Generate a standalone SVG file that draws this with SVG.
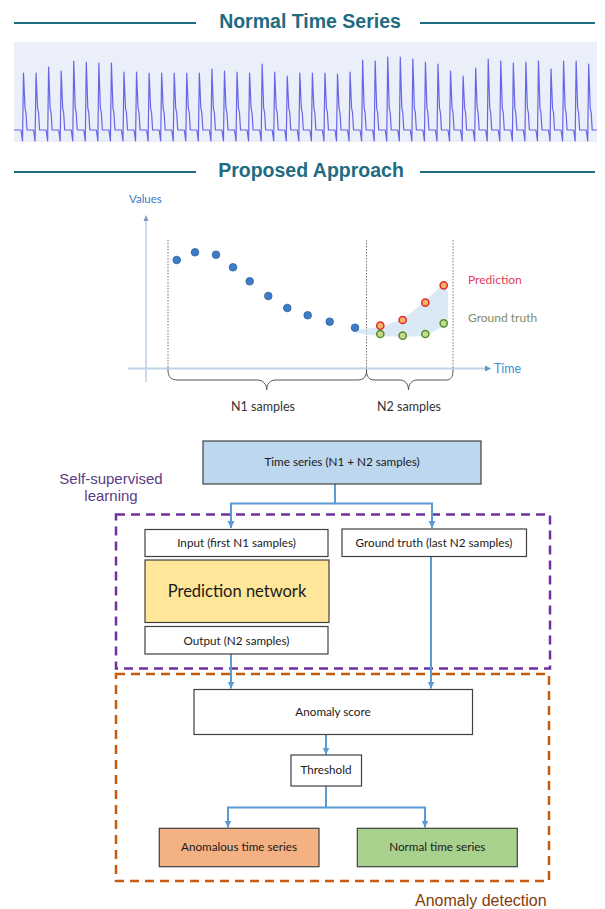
<svg xmlns="http://www.w3.org/2000/svg" width="605" height="909" viewBox="0 0 605 909">
<style>
.title{font-family:"Liberation Sans",Arial,sans-serif;font-weight:bold;fill:#1f6b82;text-anchor:middle}
.tline{stroke:#1f6b82;stroke-width:2}
.ax{font-family:Lato,"Open Sans",sans-serif}
.box{stroke:#404040;stroke-width:1.2}
.lbl{font-family:Lato,"Liberation Sans",sans-serif;font-size:11.7px;fill:#1a1a1a;text-anchor:middle}
.big{font-size:16.5px}
.conn{fill:none;stroke:#5b9bd5;stroke-width:2}
.dot{fill:#3d7cc9;stroke:#2c5f9e;stroke-width:0.8}
.pred{fill:#f7b267;stroke:#e02b2b;stroke-width:1.5}
.gt{fill:#c9d98a;stroke:#4f8f2f;stroke-width:1.5}
.vdot{stroke:#666;stroke-width:0.9;stroke-dasharray:1.5,1.5}
.brace{fill:none;stroke:#555;stroke-width:1}
</style>
<defs>
<marker id="arr" markerWidth="8" markerHeight="8" refX="7" refY="4" orient="auto" markerUnits="userSpaceOnUse">
<path d="M0,0.5 L7,4 L0,7.5 Z" fill="#5b9bd5"/>
</marker>
<clipPath id="wclip"><rect x="14" y="42" width="583" height="100"/></clipPath>
</defs>
<rect width="605" height="909" fill="#ffffff"/>

<g id="title-normal">
<line class="tline" x1="14" y1="23" x2="196" y2="23"/>
<line class="tline" x1="420" y1="23" x2="595" y2="23"/>
<text class="title" x="310" y="28" font-size="19.5">Normal Time Series</text>
</g>

<g id="waveform">
<rect x="14" y="42" width="583" height="100" fill="#eaeff9"/>
<path clip-path="url(#wclip)" fill="none" stroke="#6666e6" stroke-width="1.2" stroke-linejoin="round" d="M14,130 H21
l1.5,11 l1,-68 l1.5,35 l1,5 l1,17 h6.56
l1.5,11 l1,-68 l1.5,35 l1,5 l1,17 h6.56
l1.5,11 l1,-74 l1.5,41 l1,5 l1,17 h6.56
l1.5,11 l1,-70 l1.5,37 l1,5 l1,17 h6.56
l1.5,11 l1,-80 l1.5,47 l1,5 l1,17 h6.56
l1.5,11 l1,-79 l1.5,46 l1,5 l1,17 h6.56
l1.5,11 l1,-78 l1.5,45 l1,5 l1,17 h6.56
l1.5,11 l1,-78 l1.5,45 l1,5 l1,17 h6.56
l1.5,11 l1,-69 l1.5,36 l1,5 l1,17 h6.56
l1.5,11 l1,-69 l1.5,36 l1,5 l1,17 h6.56
l1.5,11 l1,-68 l1.5,35 l1,5 l1,17 h6.56
l1.5,11 l1,-68 l1.5,35 l1,5 l1,17 h6.56
l1.5,11 l1,-68 l1.5,35 l1,5 l1,17 h6.56
l1.5,11 l1,-68 l1.5,35 l1,5 l1,17 h6.56
l1.5,11 l1,-68 l1.5,35 l1,5 l1,17 h6.56
l1.5,11 l1,-72 l1.5,39 l1,5 l1,17 h6.56
l1.5,11 l1,-70 l1.5,37 l1,5 l1,17 h6.56
l1.5,11 l1,-69 l1.5,36 l1,5 l1,17 h6.56
l1.5,11 l1,-68 l1.5,35 l1,5 l1,17 h6.56
l1.5,11 l1,-77 l1.5,44 l1,5 l1,17 h6.56
l1.5,11 l1,-69 l1.5,36 l1,5 l1,17 h6.56
l1.5,11 l1,-65 l1.5,32 l1,5 l1,17 h6.56
l1.5,11 l1,-68 l1.5,35 l1,5 l1,17 h6.56
l1.5,11 l1,-68 l1.5,35 l1,5 l1,17 h6.56
l1.5,11 l1,-68 l1.5,35 l1,5 l1,17 h6.56
l1.5,11 l1,-67 l1.5,34 l1,5 l1,17 h6.56
l1.5,11 l1,-69 l1.5,36 l1,5 l1,17 h6.56
l1.5,11 l1,-81 l1.5,48 l1,5 l1,17 h6.56
l1.5,11 l1,-80 l1.5,47 l1,5 l1,17 h6.56
l1.5,11 l1,-84 l1.5,51 l1,5 l1,17 h6.56
l1.5,11 l1,-84 l1.5,51 l1,5 l1,17 h6.56
l1.5,11 l1,-82 l1.5,49 l1,5 l1,17 h6.56
l1.5,11 l1,-79 l1.5,46 l1,5 l1,17 h6.56
l1.5,11 l1,-77 l1.5,44 l1,5 l1,17 h6.56
l1.5,11 l1,-70 l1.5,37 l1,5 l1,17 h6.56
l1.5,11 l1,-65 l1.5,32 l1,5 l1,17 h6.56
l1.5,11 l1,-73 l1.5,40 l1,5 l1,17 h6.56
l1.5,11 l1,-82 l1.5,49 l1,5 l1,17 h6.56
l1.5,11 l1,-80 l1.5,47 l1,5 l1,17 h6.56
l1.5,11 l1,-78 l1.5,45 l1,5 l1,17 h6.56
l1.5,11 l1,-79 l1.5,46 l1,5 l1,17 h6.56
l1.5,11 l1,-80 l1.5,47 l1,5 l1,17 h6.56
l1.5,11 l1,-72 l1.5,39 l1,5 l1,17 h6.56
l1.5,11 l1,-80 l1.5,47 l1,5 l1,17 h6.56
l1.5,11 l1,-80 l1.5,47 l1,5 l1,17 h6.56
l1.5,11 l1,-77 l1.5,44 l1,5 l1,17 h6.56"/>
</g>

<g id="title-proposed">
<line class="tline" x1="14" y1="172" x2="196" y2="172"/>
<line class="tline" x1="420" y1="172" x2="595" y2="172"/>
<text class="title" x="311" y="177" font-size="19.5">Proposed Approach</text>
</g>

<g id="chart">
<line x1="146" y1="382" x2="146" y2="220" stroke="#a9c2da" stroke-width="1.2"/>
<path d="M143.5,221 L146,215 L148.5,221 Z" fill="#7f9fbf"/>
<line x1="128" y1="368.5" x2="486" y2="368.5" stroke="#bcd3e8" stroke-width="2"/>
<path d="M485,365.5 L491,368.5 L485,371.5 Z" fill="#5b9bd5"/>
<text class="ax" x="129" y="203" font-size="11.5" fill="#3b7cbf">Values</text>
<text class="ax" x="494" y="372.5" font-size="12.5" fill="#3b8fd0">Time</text>
<line class="vdot" x1="168" y1="240" x2="168" y2="370"/>
<line class="vdot" x1="366.5" y1="240" x2="366.5" y2="370"/>
<line class="vdot" x1="453" y1="240" x2="453" y2="370"/>
<path class="brace" d="M168,370 C168,377 171,380 178,380 H257 C263,380 266.7,384 266.7,390 C266.7,384 270,380 276,380 H357 C364,380 366.5,377 366.5,370"/>
<path class="brace" d="M366.5,370 C366.5,377 369,380 375,380 H400 C405,380 408.5,384 408.5,390 C408.5,384 412,380 417,380 H446 C451,380 453,377 453,370"/>
<text class="ax" x="263" y="411" font-size="12.5" fill="#333" text-anchor="middle">N1 samples</text>
<text class="ax" x="409" y="411" font-size="12.5" fill="#333" text-anchor="middle">N2 samples</text>
<polygon points="356,330 380,327 403,319 425,301 444,283 448,292 448,324 425,336 403,337 380,336 356,333" fill="#cfe1f2" opacity="0.75"/>
<circle class="dot" cx="176.7" cy="260" r="3.8"/>
<circle class="dot" cx="195" cy="252.3" r="3.8"/>
<circle class="dot" cx="216" cy="254.7" r="3.8"/>
<circle class="dot" cx="233" cy="267.3" r="3.8"/>
<circle class="dot" cx="249.7" cy="281.3" r="3.8"/>
<circle class="dot" cx="268.3" cy="296" r="3.8"/>
<circle class="dot" cx="287.3" cy="308" r="3.8"/>
<circle class="dot" cx="307.7" cy="315.3" r="3.8"/>
<circle class="dot" cx="329.7" cy="321.7" r="3.8"/>
<circle class="dot" cx="355" cy="327.7" r="3.8"/>
<circle class="pred" cx="380.3" cy="325.7" r="3.6"/>
<circle class="pred" cx="402.7" cy="320" r="3.6"/>
<circle class="pred" cx="425.3" cy="302.7" r="3.6"/>
<circle class="pred" cx="443.7" cy="285.3" r="3.6"/>
<circle class="gt" cx="380.3" cy="334" r="3.6"/>
<circle class="gt" cx="402.7" cy="335.7" r="3.6"/>
<circle class="gt" cx="425.3" cy="334" r="3.6"/>
<circle class="gt" cx="443.7" cy="323.3" r="3.6"/>
<text class="ax" x="468" y="284" font-size="12" fill="#e0405a">Prediction</text>
<text class="ax" x="468" y="322" font-size="12" fill="#7f8c6a">Ground truth</text>
</g>

<g id="group-ssl">
<rect x="116" y="514.5" width="434" height="154" fill="none" stroke="#7030a0" stroke-width="2.5" stroke-dasharray="9,6"/>
<text x="111" y="483.5" font-family="'Liberation Sans',Arial,sans-serif" font-size="15" fill="#5a3d85" text-anchor="middle">Self-supervised</text>
<text x="111" y="501" font-family="'Liberation Sans',Arial,sans-serif" font-size="15" fill="#5a3d85" text-anchor="middle">learning</text>
</g>

<g id="group-ad">
<rect x="116" y="674" width="433" height="207" fill="none" stroke="#c55a11" stroke-width="2.5" stroke-dasharray="9,6"/>
<text x="415" y="906" font-family="'Liberation Sans',Arial,sans-serif" font-size="16" fill="#843c0c">Anomaly detection</text>
</g>

<g id="connectors">
<path class="conn" d="M335,484 V503.5 H231 V528" marker-end="url(#arr)"/>
<path class="conn" d="M335,503.5 H432 V528" marker-end="url(#arr)"/>
<path class="conn" d="M231,654 V688.5" marker-end="url(#arr)"/>
<path class="conn" d="M431,557 V688.5" marker-end="url(#arr)"/>
<path class="conn" d="M326,734.5 V754.5" marker-end="url(#arr)"/>
<path class="conn" d="M326,786 V807.5 H228 V827.5" marker-end="url(#arr)"/>
<path class="conn" d="M326,807.5 H425 V827.5" marker-end="url(#arr)"/>
</g>

<g id="time-series">
<rect class="box" x="203" y="441" width="278" height="43" fill="#bdd7ee"/>
<text class="lbl" x="342" y="466">Time series (N1 + N2 samples)</text>
</g>
<g id="input">
<rect class="box" x="145" y="529.5" width="183" height="27" fill="#ffffff"/>
<text class="lbl" x="236.5" y="547">Input (first N1 samples)</text>
</g>
<g id="ground-truth">
<rect class="box" x="342" y="529" width="184.5" height="27.5" fill="#ffffff"/>
<text class="lbl" x="434" y="546.5">Ground truth (last N2 samples)</text>
</g>
<g id="prediction-network">
<rect class="box" x="145" y="560" width="184" height="62.5" fill="#ffe699"/>
<text class="lbl big" x="237" y="597">Prediction network</text>
</g>
<g id="output">
<rect class="box" x="145" y="626.5" width="183" height="27.5" fill="#ffffff"/>
<text class="lbl" x="236.5" y="644.5">Output (N2 samples)</text>
</g>
<g id="anomaly-score">
<rect class="box" x="194" y="689.5" width="278.5" height="45" fill="#ffffff"/>
<text class="lbl" x="333" y="716">Anomaly score</text>
</g>
<g id="threshold">
<rect class="box" x="291" y="755" width="70.5" height="31" fill="#ffffff"/>
<text class="lbl" x="326" y="774">Threshold</text>
</g>
<g id="anomalous">
<rect class="box" x="159.3" y="828.3" width="159.7" height="38.4" fill="#f4b183"/>
<text class="lbl" x="239" y="851">Anomalous time series</text>
</g>
<g id="normal">
<rect class="box" x="357.3" y="828.3" width="160" height="38.4" fill="#a9d18e"/>
<text class="lbl" x="437.3" y="851">Normal time series</text>
</g>
</svg>
